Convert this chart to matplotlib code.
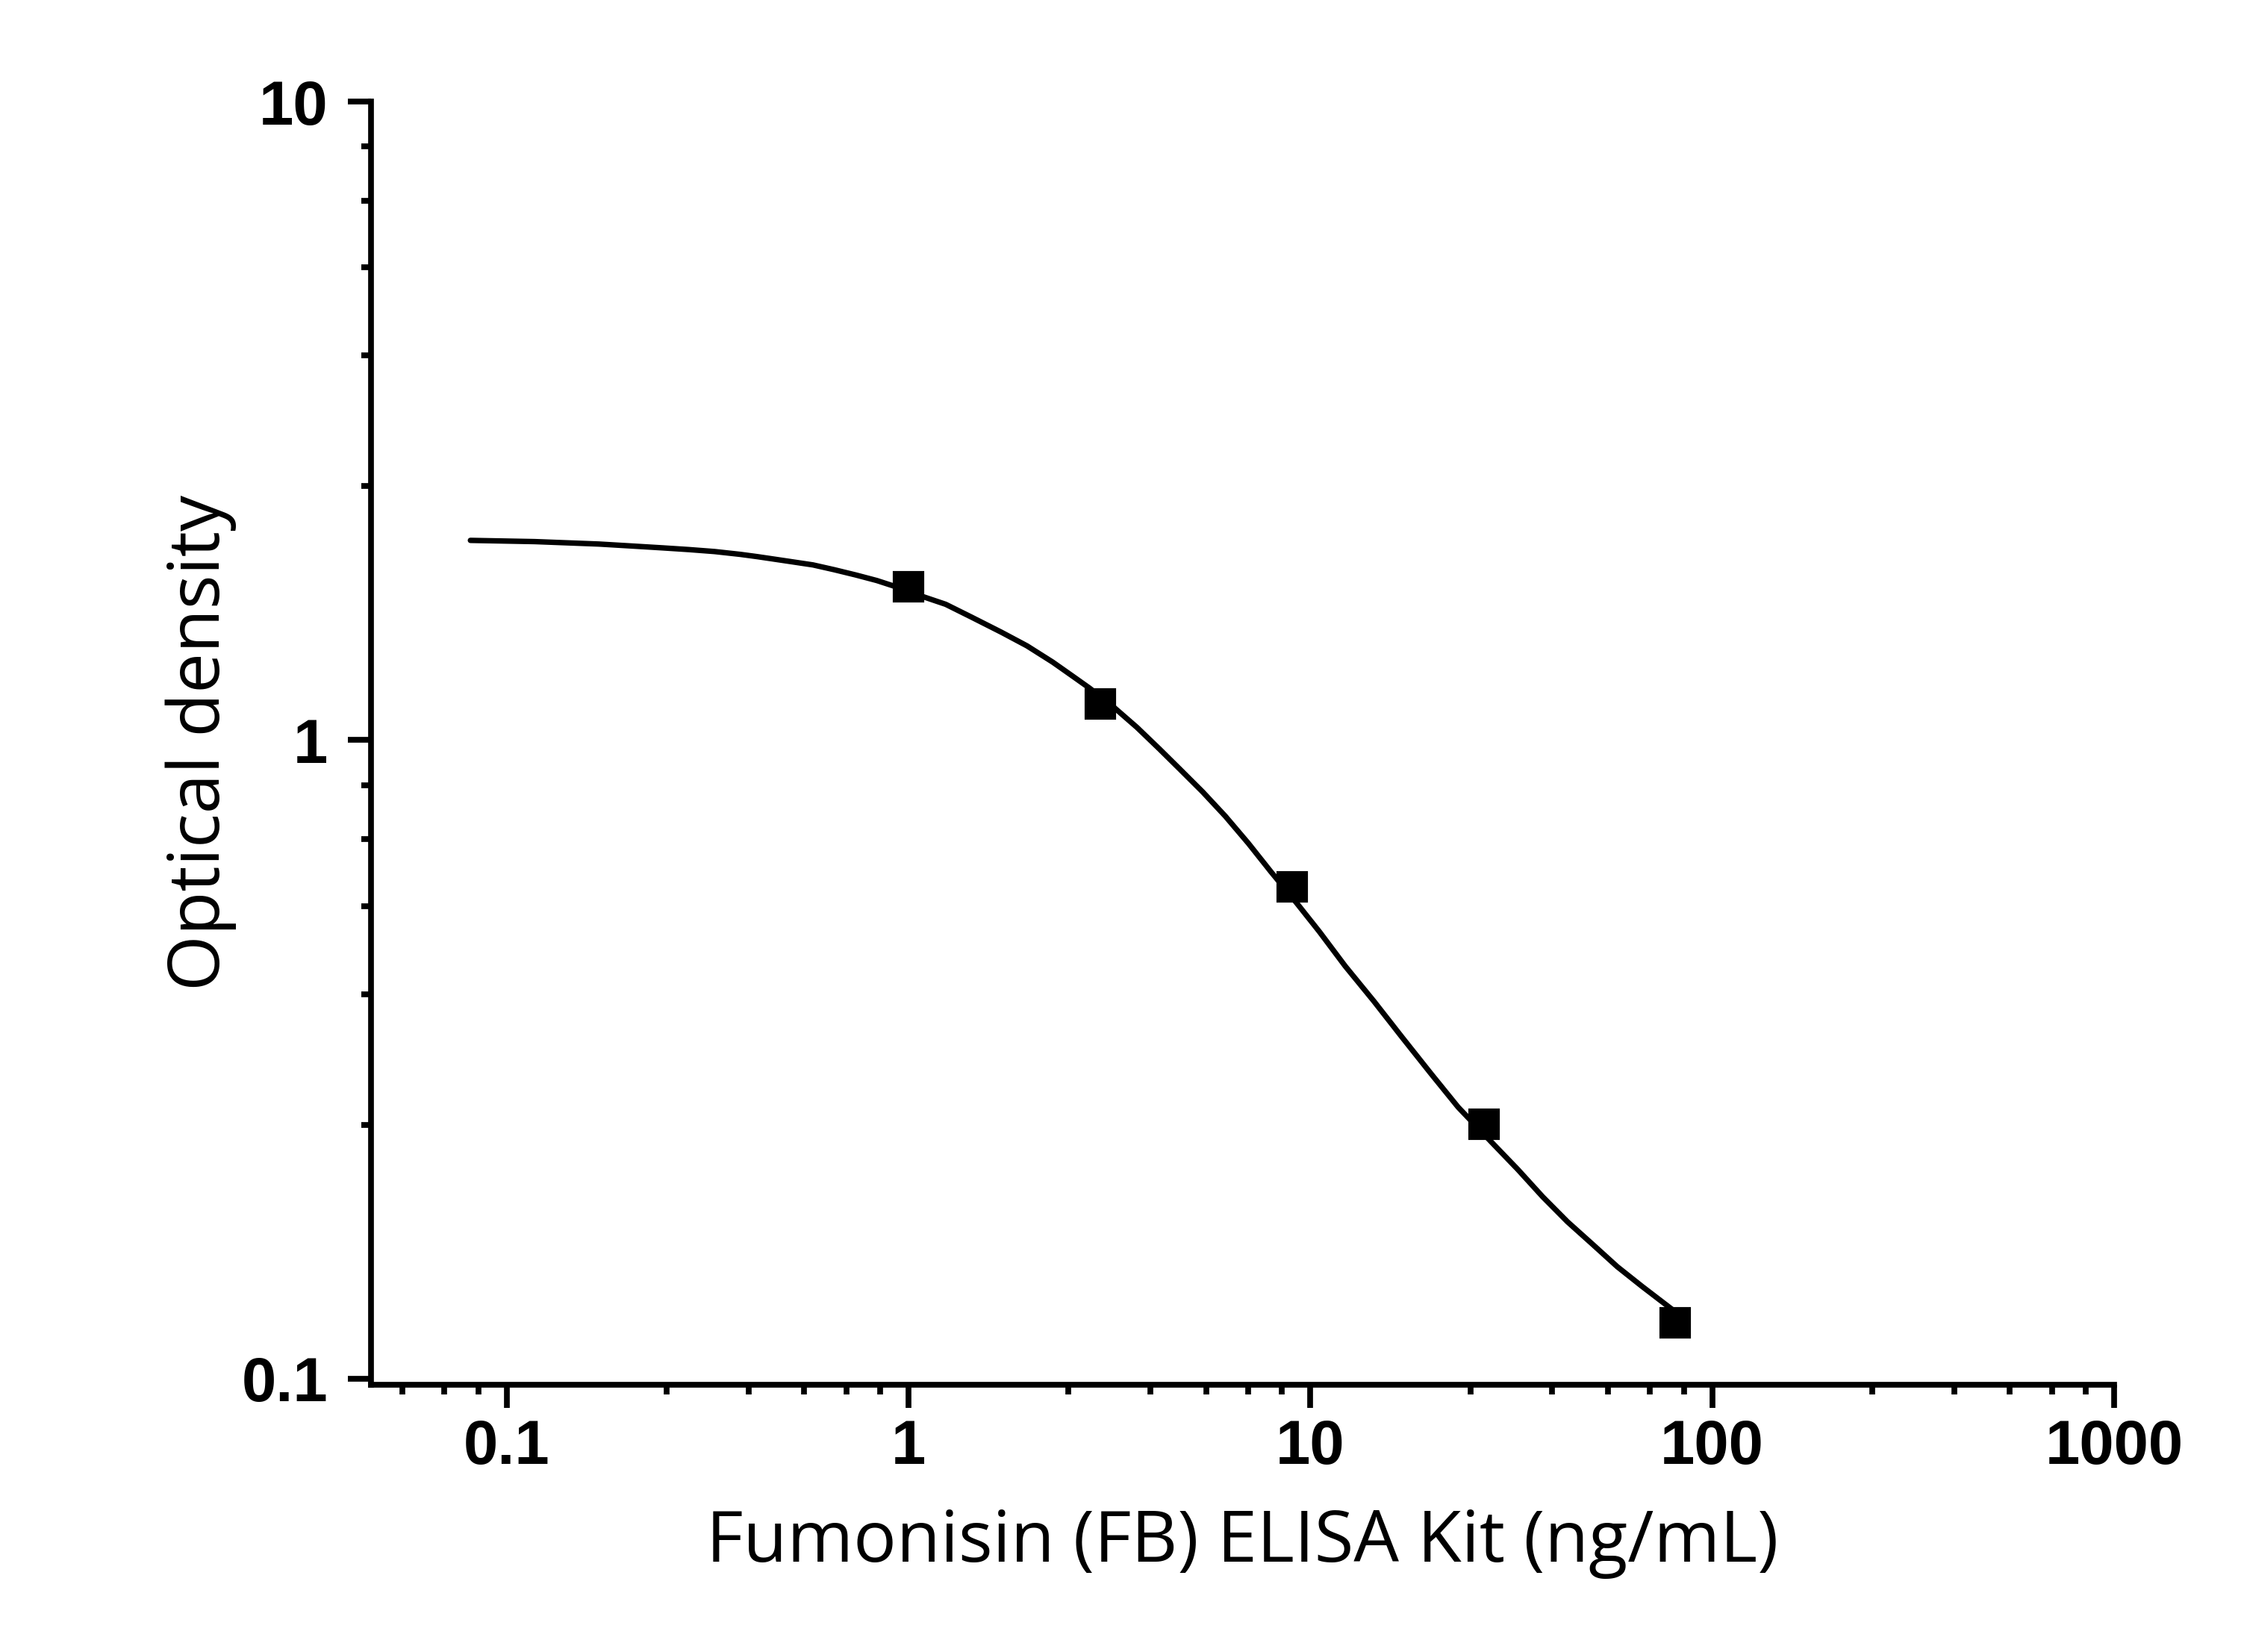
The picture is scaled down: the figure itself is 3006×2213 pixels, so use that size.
import matplotlib
matplotlib.use("Agg")
import matplotlib.pyplot as plt
from matplotlib.ticker import FixedLocator, FixedFormatter, NullFormatter

# ---- data ----
conc = [1, 3, 9, 27, 81]
od = [1.739, 1.139, 0.589, 0.2504, 0.1224]

fit_x = [0.0813, 0.1175, 0.1698, 0.2016, 0.2453, 0.2842, 0.3292, 0.3815, 0.4206,
         0.4864, 0.5788, 0.6530, 0.7396, 0.8344, 0.9221, 1.068, 1.238, 1.433,
         1.702, 1.972, 2.285, 2.583, 2.824, 3.249, 3.704, 4.212, 4.733, 5.395,
         6.147, 7.007, 7.983, 9.252, 10.54, 12.21, 14.38, 16.94, 19.95, 23.33,
         28.48, 32.83, 37.87, 43.65, 50.33, 58.04, 66.93, 80.8]
fit_y = [2.055, 2.046, 2.028, 2.015, 2.000, 1.988, 1.974, 1.954, 1.938,
         1.912, 1.881, 1.849, 1.814, 1.778, 1.742, 1.684, 1.632, 1.559,
         1.476, 1.405, 1.325, 1.255, 1.206, 1.125, 1.047, 0.9687, 0.901, 0.830,
         0.760, 0.6897, 0.622, 0.5556, 0.501, 0.4428, 0.3904, 0.3422, 0.3006, 0.2662,
         0.2334, 0.2127, 0.1927, 0.1761, 0.1625, 0.1498, 0.1395, 0.1274]

x_ticks = [0.1, 1, 10, 100, 1000]
x_ticklabels = ["0.1", "1", "10", "100", "1000"]
y_ticks = [0.1, 1, 10]
y_ticklabels = ["0.1", "1", "10"]
minor_mult = [2.5, 4, 5.5, 7, 8.5]

x_label = "Fumonisin (FB) ELISA Kit (ng/mL)"
y_label = "Optical density"

# ---- figure ----
W, H = 3006, 2213
dpi = 300
fig = plt.figure(figsize=(W / dpi, H / dpi), dpi=dpi)
ax = fig.add_axes([497 / W, 1 - 1854.5 / H, (2832 - 497) / W, (1854.5 - 136) / H])

ax.plot(fit_x, fit_y, color="black", lw=1.75, solid_capstyle="round",
        solid_joinstyle="round", zorder=2)
ax.plot(conc, od, linestyle="none", marker="s", markersize=9.0,
        color="black", zorder=3)

ax.set_xscale("log")
ax.set_yscale("log")
ax.set_xlim(0.046, 1000)
ax.set_ylim(0.098, 10)

ax.xaxis.set_major_locator(FixedLocator(x_ticks))
ax.xaxis.set_major_formatter(FixedFormatter(x_ticklabels))
ax.yaxis.set_major_locator(FixedLocator(y_ticks))
ax.yaxis.set_major_formatter(FixedFormatter(y_ticklabels))
minor_x = [m * 10.0 ** e for e in range(-2, 3) for m in minor_mult]
minor_y = [m * 10.0 ** e for e in range(-2, 1) for m in minor_mult]
ax.xaxis.set_minor_locator(FixedLocator(minor_x))
ax.yaxis.set_minor_locator(FixedLocator(minor_y))
ax.xaxis.set_minor_formatter(NullFormatter())
ax.yaxis.set_minor_formatter(NullFormatter())

for s in ["top", "right"]:
    ax.spines[s].set_visible(False)
for s in ["left", "bottom"]:
    ax.spines[s].set_linewidth(1.85)
    ax.spines[s].set_capstyle("projecting")

ax.tick_params(axis="both", which="major", direction="out", length=7.4,
               width=1.85, color="black")
ax.tick_params(axis="both", which="minor", direction="out", length=3.1,
               width=1.85, color="black")
ax.tick_params(axis="x", which="major", pad=3.5)
ax.tick_params(axis="y", which="major", pad=6.5)

for lab in ax.get_xticklabels() + ax.get_yticklabels():
    lab.set_fontfamily("Liberation Sans")
    lab.set_fontweight("bold")
    lab.set_fontsize(20)

ax.set_xlabel(x_label, fontfamily="Open Sans", fontsize=23)
ax.set_ylabel(y_label, fontfamily="Open Sans", fontsize=23)
ax.xaxis.set_label_coords(0.5, -0.096)
ax.yaxis.set_label_coords(-0.077, 0.5)

fig.savefig("out.png", dpi=dpi, facecolor="white")
